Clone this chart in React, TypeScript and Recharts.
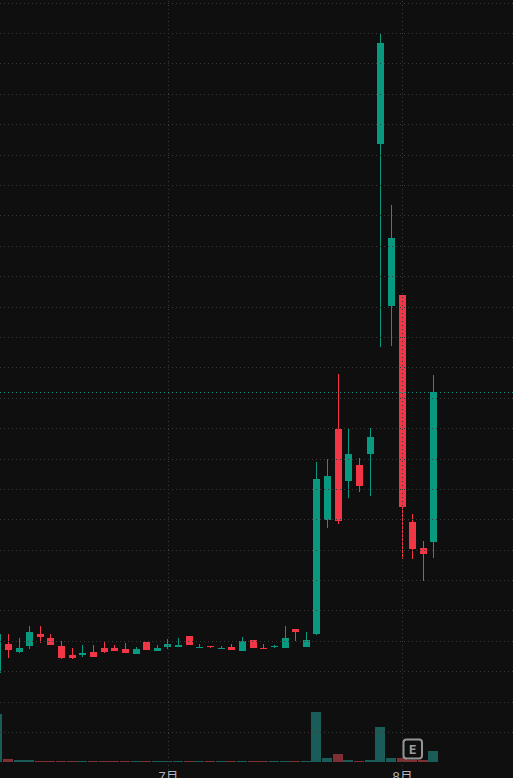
import React from 'react';
import {
    Bar,
    Cell,
    ComposedChart,
    ReferenceDot,
    ReferenceLine,
    XAxis,
    YAxis,
} from 'recharts';

// the chart shows no price scale, so prices are in arbitrary chart units
const dates = [
    '06-06', '06-07', '06-10', '06-11', '06-12', '06-13', '06-14', '06-17', '06-18', '06-20',
    '06-21', '06-24', '06-25', '06-26', '06-27', '06-28', '07-01', '07-02', '07-03', '07-05',
    '07-08', '07-09', '07-10', '07-11', '07-12', '07-15', '07-16', '07-17', '07-18', '07-19',
    '07-22', '07-23', '07-24', '07-25', '07-26', '07-29', '07-30', '07-31', '08-01', '08-02',
    '08-05', '08-06', '08-07', '08-08', '08-09', '08-12', '08-13', '08-14', '08-15',
];
const opens = [
    105, 134, 126, 132, 144, 140, 132, 123, 123, 126, 130, 130, 129, 124, 136, 127, 131, 131, 142, 130,
    132, 129, 131, 127, 138, 130, 131, 130, 149, 131, 144, 258, 349, 297, 313, 324, 634, 472, 483, 256,
    230, 236,
];
const highs = [
    144, 144, 140, 152, 152, 144, 137, 130, 133, 133, 136, 133, 135, 131, 136, 133, 139, 140, 142, 134,
    132, 132, 134, 141, 138, 134, 133, 152, 149, 146, 316, 319, 404, 350, 320, 350, 745, 573, 483, 264,
    237, 403,
];
const lows = [
    105, 120, 125, 129, 135, 133, 119, 119, 121, 121, 125, 127, 125, 124, 128, 127, 129, 131, 133, 130,
    130, 129, 128, 127, 130, 129, 130, 130, 137, 131, 143, 250, 254, 280, 286, 282, 431, 432, 219, 219,
    197, 220,
];
const closes = [
    144, 128, 130, 146, 141, 133, 120, 120, 125, 121, 126, 127, 125, 129, 128, 130, 134, 133, 133, 131,
    131, 130, 128, 137, 130, 129, 132, 140, 146, 138, 299, 302, 257, 324, 292, 341, 735, 540, 271, 229,
    224, 386,
];
const volumes = [
    48, 3, 2, 2, 1, 1, 1, 1, 1, 1, 1, 1, 1, 1, 1, 1, 1, 1, 1, 1,
    1, 1, 1, 1, 1, 1, 1, 1, 1, 1, 50, 4, 8, 2, 1, 2, 35, 4, 4, 2,
    2, 11,
];
const priceTicks = [
    45.5, 75.5, 106.5, 136.5, 167.5, 197.5, 227.5, 258.5, 288.5, 318.5, 349.5, 379.5, 410.5,
    440.5, 470.5, 501.5, 531.5, 562.5, 592.5, 622.5, 653.5, 683.5, 714.5, 744.5, 774.5,
];
const monthTicks = ['07-01', '08-01'];
const monthLabels: Record<string, string> = { '07-01': '7月', '08-01': '8月' };
const earningsDate = '08-02';

const BG = '#0f0f0f';
const UP = '#089981';
const DOWN = '#f23645';
const UP_VOL = '#1a5c58';
const DOWN_VOL = '#7f3034';
const GRID = '#3a3a3a';

const table = dates.map((date, i) => ({
    date,
    open: opens[i],
    close: closes[i],
    range: lows[i] === undefined ? null : [lows[i], highs[i]],
    volume: volumes[i] === undefined ? null : volumes[i],
}));

const Candle = (props: any) => {
    const { x, y, width, height, payload } = props;
    if (!payload.range) {
        return null;
    }
    const [low, high] = payload.range;
    const toPixel = (p: number) => y + ((high - p) / (high - low)) * height;
    const top = toPixel(Math.max(payload.open, payload.close));
    const bottom = toPixel(Math.min(payload.open, payload.close));
    const color = payload.close >= payload.open ? UP : DOWN;
    const left = Math.round(x);
    return (
        <g shapeRendering="crispEdges">
            <rect x={left + Math.floor(width / 2)} y={y} width={1} height={height} fill={color} />
            <rect x={left} y={top} width={width} height={Math.max(bottom - top, 1)} fill={color} />
        </g>
    );
};

const EarningsBadge = (props: any) => {
    const { cx, cy } = props;
    return (
        <g>
            <rect
                x={cx - 9}
                y={cy - 9.5}
                width={18.5}
                height={19}
                rx={3}
                fill={BG}
                stroke="#959595"
                strokeWidth={2}
            />
            <text
                x={cx + 0.2}
                y={cy + 5}
                fill="#9c9c9c"
                fontSize={13}
                fontWeight="bold"
                textAnchor="middle"
                fontFamily="'DejaVu Sans Mono', monospace"
            >
                E
            </text>
        </g>
    );
};

// the labels sit half below the picture's bottom edge, as in the source screenshot
const MonthTick = (props: any) => {
    const { x, payload } = props;
    return (
        <text
            x={x}
            y={781}
            fill="#b2b5be"
            fontSize={13}
            textAnchor="middle"
            fontFamily="'Liberation Sans', 'Noto Sans CJK JP', sans-serif"
        >
            {monthLabels[payload.value]}
        </text>
    );
};

const App = () => {
    return (
        <div
            style={{
                position: 'absolute',
                left: 0,
                top: 0,
                width: 513,
                height: 778,
                overflow: 'hidden',
                background: BG,
            }}
        >
            <div style={{ position: 'absolute', left: -8, top: 0 }}>
                <ComposedChart
                    width={521.6}
                    height={800}
                    data={table}
                    margin={{ top: 0, right: 0, bottom: 0, left: 0.24 }}
                >
                    <XAxis dataKey="date" hide />
                    <XAxis xAxisId="vol" dataKey="date" hide />
                    <XAxis
                        xAxisId="months"
                        dataKey="date"
                        ticks={monthTicks}
                        interval={0}
                        height={22}
                        padding={{ left: 0.7, right: -0.7 }}
                        axisLine={false}
                        tickLine={false}
                        tick={MonthTick}
                    />
                    <YAxis hide domain={[0, 778]} />
                    <YAxis yAxisId="vol" hide domain={[-16, 762]} />
                    {priceTicks.map((t) => (
                        <ReferenceLine
                            key={t}
                            y={t}
                            stroke={GRID}
                            strokeDasharray="1 3"
                            shapeRendering="crispEdges"
                        />
                    ))}
                    {monthTicks.map((m) => (
                        <ReferenceLine
                            key={m}
                            xAxisId="months"
                            x={m}
                            stroke={GRID}
                            strokeDasharray="1 3"
                            shapeRendering="crispEdges"
                        />
                    ))}
                    <ReferenceLine
                        y={closes[closes.length - 1] - 0.5}
                        stroke={UP}
                        strokeDasharray="1 3"
                        shapeRendering="crispEdges"
                    />
                    <Bar
                        xAxisId="vol"
                        yAxisId="vol"
                        dataKey="volume"
                        barSize={10}
                        shapeRendering="crispEdges"
                        isAnimationActive={false}
                    >
                        {table.map((d) => (
                            <Cell key={d.date} fill={d.close >= d.open ? UP_VOL : DOWN_VOL} />
                        ))}
                    </Bar>
                    <Bar dataKey="range" barSize={7} shape={Candle} isAnimationActive={false} />
                    <ReferenceDot
                        xAxisId="vol"
                        yAxisId="vol"
                        x={earningsDate}
                        y={13}
                        shape={EarningsBadge}
                    />
                </ComposedChart>
            </div>
        </div>
    );
};

export default App;
